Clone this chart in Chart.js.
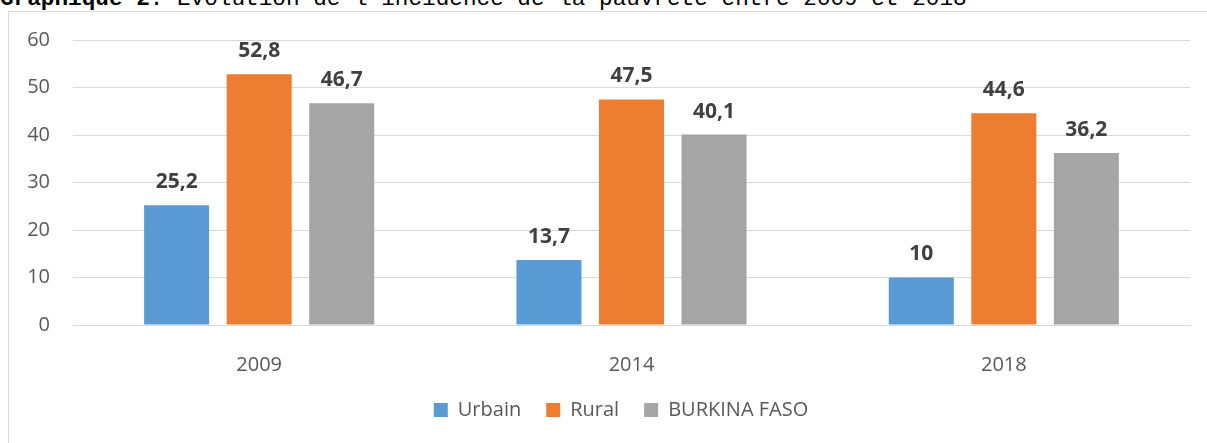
<!DOCTYPE html>
<html lang="fr">
<head>
<meta charset="utf-8">
<title>Graphique 2</title>
<script src="https://cdn.jsdelivr.net/npm/chart.js@4/dist/chart.umd.min.js"></script>
<style>
  html, body { margin: 0; padding: 0; background: #fff; overflow: hidden; }
  #wrap { position: relative; width: 1207px; height: 443px; overflow: hidden; }
  #title {
    position: absolute; left: 0; top: -12px; white-space: nowrap;
    font-family: "Liberation Mono", monospace; font-size: 22.7px; line-height: 22.7px; color: #000;
  }
  #frame { position: absolute; left: 8px; top: 11px; width: 1300px; height: 500px; border: 1px solid #d9d9d9; }
  #myChart { position: absolute; left: 0; top: 0; }
</style>
</head>
<body>
<div id="wrap">
  <div id="title"><b>Graphique 2</b>: Evolution de l'incidence de la pauvreté entre 2009 et 2018</div>
  <div id="frame"></div>
  <canvas id="myChart" width="1207" height="443"></canvas>
</div>
<script>
const categories = ['2009', '2014', '2018']
const urbain = [25.2, 13.7, 10]
const rural = [52.8, 47.5, 44.6]
const burkina = [46.7, 40.1, 36.2]
const yMin = 0
const yMax = 60
const yStep = 10

const fmt = v => String(v).replace('.', ',')

// value labels above each bar
const barLabels = {
  id: 'barLabels',
  afterDatasetsDraw(chart) {
    const ctx = chart.ctx
    ctx.save()
    ctx.font = 'bold 21px "Open Sans"'
    ctx.fillStyle = '#404040'
    ctx.textAlign = 'center'
    ctx.textBaseline = 'middle'
    chart.data.datasets.forEach((ds, i) => {
      chart.getDatasetMeta(i).data.forEach((bar, j) => {
        ctx.fillText(fmt(ds.data[j]), bar.x, bar.y - 23)
      })
    })
    ctx.restore()
  }
}

// legend sits a bit right of the canvas centre, as in the source
const legendShift = {
  id: 'legendShift',
  afterLayout(chart) {
    chart.legend.left += 26
    chart.legend.right += 26
  }
}

const ctx = document.getElementById('myChart')

new Chart(ctx, {
  type: 'bar',
  data: {
    labels: categories,
    datasets: [
      { label: 'Urbain', data: urbain, backgroundColor: '#5b9bd5' },
      { label: 'Rural', data: rural, backgroundColor: '#ed7d31' },
      { label: 'BURKINA FASO', data: burkina, backgroundColor: '#a5a5a5' }
    ]
  },
  options: {
    responsive: false,
    animation: false,
    devicePixelRatio: 1,
    categoryPercentage: 0.665,
    barPercentage: 0.788,
    layout: { padding: { left: 0, right: 17, top: 40, bottom: 13 } },
    plugins: {
      tooltip: { enabled: false },
      legend: {
        position: 'bottom',
        labels: {
          boxWidth: 14,
          boxHeight: 14,
          padding: 25,
          color: '#595959',
          font: { family: 'Open Sans', size: 20 }
        }
      }
    },
    scales: {
      x: {
        grid: { display: false },
        border: { color: '#d9d9d9' },
        ticks: { color: '#595959', padding: 20, font: { family: 'Open Sans', size: 20 } },
        afterFit(s) { s.height = 50 }
      },
      y: {
        min: yMin,
        max: yMax,
        grid: { color: '#d9d9d9', drawTicks: false },
        border: { display: false },
        ticks: { stepSize: yStep, color: '#595959', padding: 23, font: { family: 'Open Sans', size: 20 } },
        afterFit(s) { s.width = 73 }
      }
    }
  },
  plugins: [barLabels, legendShift]
})
</script>
</body>
</html>
